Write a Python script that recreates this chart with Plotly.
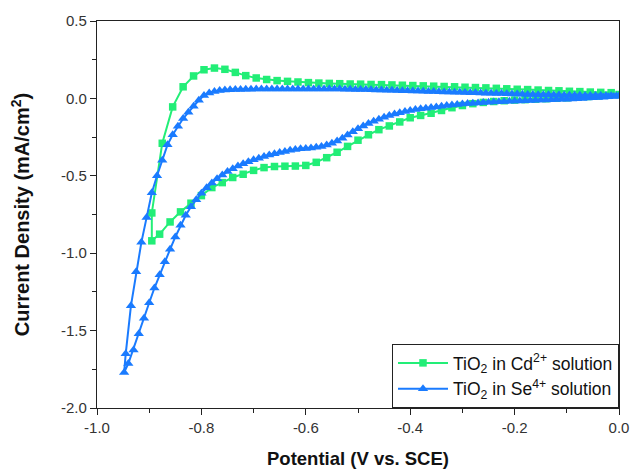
import plotly.graph_objects as go

# ---- TiO2 in Cd2+ solution (squares) ----
cd_fwd_x = [0.00, -0.02, -0.04, -0.06, -0.08, -0.10, -0.12, -0.14, -0.16, -0.18,
            -0.20, -0.22, -0.24, -0.26, -0.28, -0.30, -0.32, -0.34, -0.36, -0.38,
            -0.40, -0.42, -0.44, -0.46, -0.48, -0.50, -0.52, -0.54, -0.56, -0.58,
            -0.60, -0.62, -0.64, -0.66, -0.68, -0.70, -0.72, -0.74, -0.76, -0.78,
            -0.80, -0.82, -0.84, -0.86, -0.88, -0.895]
cd_fwd_y = [0.025, 0.020, 0.016, 0.012, 0.008, 0.004, 0.001, -0.002, -0.005, -0.008,
            -0.011, -0.015, -0.020, -0.026, -0.034, -0.046, -0.060, -0.078, -0.096, -0.110,
            -0.125, -0.152, -0.178, -0.202, -0.235, -0.270, -0.310, -0.348, -0.383, -0.413,
            -0.433, -0.437, -0.438, -0.440, -0.447, -0.465, -0.490, -0.511, -0.544, -0.576,
            -0.628, -0.677, -0.733, -0.798, -0.877, -0.920]
cd_rev_x = [-0.895, -0.875, -0.855, -0.835, -0.815, -0.795, -0.775, -0.755, -0.735, -0.715,
            -0.695, -0.675, -0.655, -0.635, -0.615, -0.595, -0.575, -0.555, -0.535, -0.515,
            -0.495, -0.475, -0.455, -0.435, -0.415, -0.395, -0.375, -0.355, -0.335, -0.315,
            -0.295, -0.275, -0.255, -0.235, -0.215, -0.195, -0.175, -0.155, -0.135, -0.115,
            -0.095, -0.075, -0.055, -0.035, -0.015]
cd_rev_y = [-0.740, -0.290, -0.055, 0.075, 0.145, 0.185, 0.196, 0.188, 0.168, 0.147,
            0.132, 0.122, 0.115, 0.110, 0.106, 0.102, 0.099, 0.097, 0.095, 0.093,
            0.092, 0.090, 0.089, 0.087, 0.085, 0.083, 0.081, 0.079, 0.077, 0.075,
            0.072, 0.070, 0.068, 0.065, 0.062, 0.059, 0.057, 0.054, 0.051, 0.049,
            0.046, 0.044, 0.041, 0.039, 0.037]

# ---- TiO2 in Se4+ solution (triangles) ----
se_fwd_x = [0.00, -0.01, -0.02, -0.03, -0.04, -0.05, -0.06, -0.07, -0.08, -0.09,
            -0.10, -0.11, -0.12, -0.13, -0.14, -0.15, -0.16, -0.17, -0.18, -0.19,
            -0.20, -0.21, -0.22, -0.23, -0.24, -0.25, -0.26, -0.27, -0.28, -0.29,
            -0.30, -0.31, -0.32, -0.33, -0.34, -0.35, -0.36, -0.37, -0.38, -0.39,
            -0.40, -0.41, -0.42, -0.43, -0.44, -0.45, -0.46, -0.47, -0.48, -0.49,
            -0.50, -0.51, -0.52, -0.53, -0.54, -0.55, -0.56, -0.57, -0.58, -0.59,
            -0.60, -0.61, -0.62, -0.63, -0.64, -0.65, -0.66, -0.67, -0.68, -0.69,
            -0.70, -0.71, -0.72, -0.73, -0.74, -0.75, -0.76, -0.77, -0.78, -0.79,
            -0.80, -0.81, -0.82, -0.83, -0.84, -0.85, -0.86, -0.87, -0.88, -0.89,
            -0.90, -0.91, -0.92, -0.93, -0.94, -0.948]
se_fwd_y = [0.015, 0.012, 0.010, 0.008, 0.006, 0.004, 0.002, 0.000, -0.002, -0.004,
            -0.005, -0.006, -0.007, -0.008, -0.010, -0.011, -0.012, -0.013, -0.015, -0.016,
            -0.017, -0.019, -0.020, -0.021, -0.023, -0.025, -0.027, -0.029, -0.031, -0.033,
            -0.036, -0.039, -0.042, -0.046, -0.050, -0.055, -0.059, -0.063, -0.067, -0.072,
            -0.078, -0.085, -0.092, -0.101, -0.111, -0.122, -0.134, -0.147, -0.162, -0.178,
            -0.196, -0.216, -0.237, -0.257, -0.275, -0.290, -0.301, -0.310, -0.316, -0.320,
            -0.323, -0.326, -0.330, -0.335, -0.343, -0.350, -0.358, -0.366, -0.376, -0.386,
            -0.397, -0.409, -0.422, -0.437, -0.454, -0.473, -0.495, -0.519, -0.546, -0.577,
            -0.612, -0.655, -0.700, -0.755, -0.820, -0.895, -0.975, -1.055, -1.140, -1.225,
            -1.320, -1.420, -1.520, -1.625, -1.713, -1.770]
se_rev_x = [-0.945, -0.935, -0.925, -0.915, -0.905, -0.895, -0.885, -0.875, -0.865, -0.855,
            -0.845, -0.835, -0.825, -0.815, -0.805, -0.795, -0.785, -0.775, -0.765, -0.755,
            -0.745, -0.735, -0.725, -0.715, -0.705, -0.695, -0.685, -0.675, -0.665, -0.655,
            -0.645, -0.635, -0.625, -0.615, -0.605, -0.595, -0.585, -0.575, -0.565, -0.555,
            -0.545, -0.535, -0.525, -0.515, -0.505, -0.495, -0.485, -0.475, -0.465, -0.455,
            -0.445, -0.435, -0.425, -0.415, -0.405, -0.395, -0.385, -0.375, -0.365, -0.355,
            -0.345, -0.335, -0.325, -0.315, -0.305, -0.295, -0.285, -0.275, -0.265, -0.255,
            -0.245, -0.235, -0.225, -0.215, -0.205, -0.195, -0.185, -0.175, -0.165, -0.155,
            -0.145, -0.135, -0.125, -0.115, -0.105, -0.095, -0.085, -0.075, -0.065, -0.055,
            -0.045, -0.035, -0.025, -0.015, -0.005]
se_rev_y = [-1.650, -1.340, -1.120, -0.930, -0.770, -0.610, -0.500, -0.400, -0.300, -0.235,
            -0.180, -0.130, -0.090, -0.050, -0.012, 0.018, 0.035, 0.045, 0.051, 0.054,
            0.056, 0.057, 0.058, 0.059, 0.059, 0.060, 0.060, 0.060, 0.061, 0.061,
            0.061, 0.061, 0.061, 0.061, 0.061, 0.061, 0.061, 0.061, 0.060, 0.060,
            0.060, 0.060, 0.059, 0.059, 0.058, 0.058, 0.057, 0.056, 0.055, 0.054,
            0.053, 0.052, 0.051, 0.050, 0.049, 0.048, 0.047, 0.046, 0.045, 0.044,
            0.043, 0.042, 0.041, 0.040, 0.039, 0.038, 0.037, 0.036, 0.035, 0.034,
            0.033, 0.032, 0.031, 0.030, 0.029, 0.028, 0.027, 0.026, 0.025, 0.024,
            0.024, 0.023, 0.022, 0.022, 0.021, 0.021, 0.020, 0.020, 0.019, 0.019,
            0.018, 0.018, 0.017, 0.017, 0.016]

x_ticks = [-1.0, -0.8, -0.6, -0.4, -0.2, 0.0]
y_ticks = [0.5, 0.0, -0.5, -1.0, -1.5, -2.0]

GREEN = "#22EE77"
BLUE = "#1A7BFF"
FONT = "Liberation Sans, Arial, sans-serif"

fig = go.Figure()
fig.add_trace(go.Scatter(
    x=cd_fwd_x + cd_rev_x, y=cd_fwd_y + cd_rev_y,
    mode="lines+markers", name="TiO<sub>2</sub> in Cd<sup>2+</sup> solution",
    line=dict(color=GREEN, width=2),
    marker=dict(symbol="square", size=7.5, color=GREEN),
))
fig.add_trace(go.Scatter(
    x=se_fwd_x + se_rev_x, y=se_fwd_y + se_rev_y,
    mode="lines+markers", name="TiO<sub>2</sub> in Se<sup>4+</sup> solution",
    line=dict(color=BLUE, width=2),
    marker=dict(symbol="triangle-up", size=9, color=BLUE),
))

axis_common = dict(
    showgrid=False, zeroline=False, showline=True, linecolor="#222", linewidth=1.3,
    mirror=True, ticks="outside", ticklen=6, tickwidth=1.3, tickcolor="#222",
    tickfont=dict(family=FONT, size=15, color="#333"),
)
fig.update_xaxes(
    range=[-1.0, 0.0], tickvals=x_ticks, ticktext=[f"{v:.1f}" for v in x_ticks],
    minor=dict(dtick=0.1, ticks="outside", ticklen=4, tickcolor="#222", tickwidth=1.2),
    title=dict(text="<b>Potential (V vs. SCE)</b>",
               font=dict(family=FONT, size=18.5, color="#111"), standoff=16),
    automargin=False,
    **axis_common,
)
fig.update_yaxes(
    range=[-2.0, 0.5], tickvals=y_ticks, ticktext=[f"{v:.1f}" for v in y_ticks],
    minor=dict(dtick=0.25, ticks="outside", ticklen=4, tickcolor="#222", tickwidth=1.2),
    title=dict(text="<b>Current Density (mA/cm<sup>2</sup>)</b>",
               font=dict(family=FONT, size=20, color="#111"), standoff=25),
    automargin=False,
    **axis_common,
)
fig.update_layout(
    width=631, height=470,
    margin=dict(l=97, r=12, t=21, b=62),
    paper_bgcolor="white", plot_bgcolor="white",
    font=dict(family=FONT),
    legend=dict(
        x=1, y=0, xanchor="right", yanchor="bottom",
        bgcolor="white", bordercolor="#222", borderwidth=1,
        font=dict(family=FONT, size=17.5, color="#111"),
        tracegroupgap=2, itemwidth=50,
    ),
)
fig.write_html("out.html")
